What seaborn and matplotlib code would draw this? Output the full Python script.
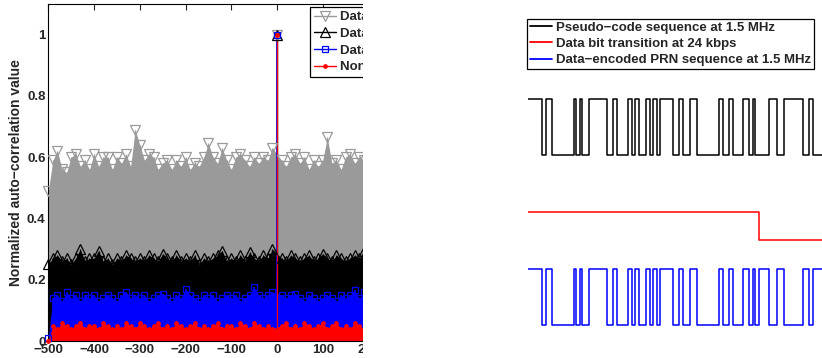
import numpy as np
import pandas as pd
import matplotlib
matplotlib.use("Agg")
import matplotlib.pyplot as plt
import seaborn as sns
from matplotlib.legend_handler import HandlerLine2D
from matplotlib.lines import Line2D
from matplotlib.patches import Rectangle

# ---------------- data: left panel (auto-correlation vs lag) ----------------
lags = list(range(-500, 501, 10))

acf_gray = [0.49, 0.59, 0.62, 0.56, 0.55, 0.60, 0.61, 0.57, 0.59, 0.56,
            0.61, 0.57, 0.60, 0.60, 0.56, 0.60, 0.58, 0.61, 0.57, 0.69,
            0.64, 0.59, 0.61, 0.60, 0.56, 0.58, 0.59, 0.56, 0.59, 0.57,
            0.60, 0.56, 0.58, 0.57, 0.60, 0.645, 0.60, 0.58, 0.63, 0.59,
            0.56, 0.60, 0.61, 0.59, 0.57, 0.60, 0.58, 0.60, 0.59, 0.63,
            1.00,
            0.59, 0.57, 0.60, 0.61, 0.58, 0.60, 0.56, 0.59, 0.57, 0.59,
            0.665, 0.58, 0.59, 0.56, 0.60, 0.61, 0.58, 0.60, 0.59, 0.57,
            0.60, 0.58, 0.61, 0.57, 0.59, 0.60, 0.56, 0.58, 0.60, 0.59,
            0.57, 0.61, 0.59, 0.58, 0.60, 0.56, 0.59, 0.61, 0.58, 0.60,
            0.59, 0.57, 0.60, 0.58, 0.61, 0.59, 0.56, 0.60, 0.58, 0.55]

acf_black = [0.25, 0.27, 0.28, 0.26, 0.27, 0.25, 0.27, 0.30, 0.26, 0.27,
             0.27, 0.295, 0.26, 0.27, 0.25, 0.27, 0.26, 0.28, 0.27, 0.26,
             0.27, 0.26, 0.28, 0.27, 0.26, 0.285, 0.27, 0.26, 0.28, 0.26,
             0.27, 0.26, 0.28, 0.25, 0.27, 0.26, 0.27, 0.28, 0.295, 0.26,
             0.27, 0.26, 0.28, 0.26, 0.29, 0.27, 0.26, 0.28, 0.27, 0.30,
             1.00,
             0.27, 0.26, 0.28, 0.27, 0.26, 0.27, 0.28, 0.26, 0.27, 0.285,
             0.27, 0.26, 0.28, 0.27, 0.26, 0.27, 0.28, 0.27, 0.295, 0.27,
             0.26, 0.28, 0.27, 0.26, 0.27, 0.28, 0.26, 0.27, 0.27, 0.26,
             0.28, 0.27, 0.26, 0.27, 0.28, 0.26, 0.27, 0.26, 0.28, 0.27,
             0.26, 0.27, 0.28, 0.26, 0.27, 0.26, 0.28, 0.27, 0.26, 0.25]

acf_blue = [0.01, 0.14, 0.15, 0.13, 0.16, 0.14, 0.15, 0.13, 0.15, 0.14,
            0.15, 0.13, 0.14, 0.15, 0.14, 0.13, 0.15, 0.16, 0.14, 0.15,
            0.14, 0.15, 0.13, 0.14, 0.15, 0.155, 0.14, 0.13, 0.15, 0.14,
            0.17, 0.15, 0.14, 0.13, 0.15, 0.14, 0.15, 0.13, 0.14, 0.15,
            0.14, 0.15, 0.13, 0.14, 0.15, 0.175, 0.15, 0.14, 0.15, 0.16,
            1.00,
            0.15, 0.14, 0.15, 0.155, 0.14, 0.13, 0.15, 0.14, 0.13, 0.14,
            0.15, 0.14, 0.13, 0.15, 0.14, 0.15, 0.165, 0.14, 0.16, 0.15,
            0.14, 0.15, 0.13, 0.14, 0.15, 0.14, 0.13, 0.15, 0.14, 0.15,
            0.14, 0.13, 0.15, 0.14, 0.15, 0.13, 0.14, 0.15, 0.14, 0.13,
            0.15, 0.14, 0.13, 0.15, 0.14, 0.15, 0.13, 0.14, 0.15, 0.12]

acf_red = [0.00, 0.05, 0.04, 0.06, 0.05, 0.04, 0.05, 0.06, 0.04, 0.05,
           0.05, 0.04, 0.06, 0.05, 0.04, 0.05, 0.04, 0.06, 0.05, 0.04,
           0.06, 0.05, 0.04, 0.05, 0.06, 0.04, 0.05, 0.04, 0.06, 0.05,
           0.04, 0.05, 0.06, 0.04, 0.05, 0.04, 0.05, 0.06, 0.04, 0.05,
           0.05, 0.04, 0.06, 0.05, 0.04, 0.06, 0.05, 0.04, 0.05, 0.04,
           1.00,
           0.05, 0.06, 0.04, 0.05, 0.04, 0.06, 0.05, 0.04, 0.05, 0.06,
           0.04, 0.05, 0.06, 0.04, 0.05, 0.04, 0.06, 0.05, 0.04, 0.05,
           0.06, 0.04, 0.05, 0.04, 0.05, 0.06, 0.04, 0.05, 0.06, 0.04,
           0.05, 0.04, 0.06, 0.05, 0.04, 0.05, 0.06, 0.04, 0.05, 0.04,
           0.06, 0.05, 0.04, 0.05, 0.06, 0.04, 0.05, 0.04, 0.05, 0.03]

acf_labels = ["Data rate 6 kbps", "Data rate 12 kbps",
              "Data rate 24 kbps", "Non\u2212encoded PRN"]

x_ticks = list(range(-500, 501, 100))
y_ticks = [0, 0.2, 0.4, 0.6, 0.8, 1.0]
y_ticklabels = ["0", "0.2", "0.4", "0.6", "0.8", "1"]

# ---------------- data: right panel (waveforms, time in microseconds) ----------------
prn_edges = [2.33, 3.00, 4.00, 7.67, 8.05, 8.72, 9.10, 10.17, 13.27, 14.27,
             14.94, 16.72, 17.44, 17.94, 18.55, 19.72, 20.39, 20.94, 21.55, 22.05,
             24.27, 25.27, 25.94, 27.06, 28.17, 31.94, 32.61, 33.61, 34.27, 35.84,
             36.84, 37.51, 37.84, 40.27, 41.51, 42.73, 45.84, 46.94, 47.61]
data_edge = 38.51
t_end = 49.06
wave_labels = ["Pseudo\u2212code sequence at 1.5 MHz",
               "Data bit transition at 24 kbps",
               "Data\u2212encoded PRN sequence at 1.5 MHz"]

# ---------------- style ----------------
sns.set_theme(style="white")
plt.rcParams["font.family"] = ["Liberation Sans", "DejaVu Sans"]
plt.rcParams["font.weight"] = "bold"
plt.rcParams["axes.labelweight"] = "bold"
plt.rcParams["axes.unicode_minus"] = True

W, H = 822, 358
fig = plt.figure(figsize=(W / 100, H / 100), dpi=100)

GRAY = "#9a9a9a"
series = [
    (acf_gray, GRAY, "v", "none", 6.5, 0.9),
    (acf_black, "black", "^", "none", 6.5, 0.9),
    (acf_blue, "#0000ff", "s", "none", 5, 1.2),
    (acf_red, "#ff0000", ".", "#ff0000", 5, 0.9),
]

# left axes: -500 at x=48.3px, 0 at 277px
ax = fig.add_axes([48.3 / W, 17 / H, (505.7 - 48.3) / W, 337 / H])
lag_arr = np.array(lags)
handles = []
for vals, col, mk, mfc, ms, lw in series:
    v = np.array(vals, float)
    fill_v = v.copy()
    i0 = int(np.where(lag_arr == 0)[0][0])
    fill_v[i0] = 0.5 * (v[i0 - 1] + v[i0 + 1])
    ax.fill_between(lag_arr, 0, fill_v, color=col, lw=0, zorder=2)
    ax.vlines(lag_arr, 0, v, color=col, lw=lw, zorder=2)
    ax.plot(lag_arr, v, ls="none", marker=mk, ms=ms, mfc=mfc, mec=col,
            mew=0.9, zorder=3, clip_on=False)
    handles.append(Line2D([], [], color=col, marker=mk, ms=ms, mfc=mfc,
                          mec=col, mew=0.9, lw=1.0))

ax.set_xlim(-500, 500)
ax.set_ylim(0, 1.1)
ax.set_xticks(x_ticks)
ax.set_xticklabels([f"{t}".replace("-", "\u2212") for t in x_ticks])
ax.set_yticks(y_ticks)
ax.set_yticklabels(y_ticklabels)
ax.tick_params(direction="in", length=4, width=0.8, top=True, right=True,
               labelsize=9.5, pad=2)
for lab in ax.get_xticklabels() + ax.get_yticklabels():
    lab.set_fontweight("bold")
for s in ax.spines.values():
    s.set_color("black")
    s.set_linewidth(0.8)
ax.set_ylabel("Normalized auto\u2212correlation value", fontsize=10,
              fontweight="bold", labelpad=3)
ax.grid(False)


class EndMarker(HandlerLine2D):
    def get_xdata(self, legend, xdescent, ydescent, width, height, fontsize):
        xdata = np.array([-xdescent, -xdescent + width], float)
        return xdata, np.array([-xdescent + width * 0.9])


leg = ax.legend(handles, acf_labels, loc="upper left",
                bbox_to_anchor=(310 / W, 1 - 7.3 / H),
                bbox_transform=fig.transFigure, borderaxespad=0,
                prop={"size": 9.5, "weight": "bold"}, frameon=True,
                fancybox=False, framealpha=1, edgecolor="black",
                handlelength=1.7, handletextpad=0.3, labelspacing=0.33,
                borderpad=0.3,
                handler_map={h: EndMarker() for h in handles})
leg.get_frame().set_linewidth(0.9)
leg.set_zorder(10)

# white mask: the left panel is cut off at x=362.5 px
fig.add_artist(Rectangle((362.5 / W, 0), (526 - 362.5) / W, 1,
                         transform=fig.transFigure, facecolor="white",
                         edgecolor="none", zorder=50))

# ---------------- right panel ----------------
bx = fig.add_axes([527.7 / W, 0, (W - 527.7) / W, 1])
bx.set_zorder(60)
bx.patch.set_alpha(0)

breaks = sorted(set([0.0] + prn_edges + [data_edge]))
prn_lvl, dat_lvl = [], []
for t in breaks:
    n = sum(1 for e in prn_edges if e <= t)
    prn_lvl.append(1 if n % 2 == 0 else -1)
    dat_lvl.append(1 if t < data_edge else -1)
breaks.append(t_end)
prn_lvl.append(prn_lvl[-1])
dat_lvl.append(dat_lvl[-1])
prn_lvl = np.array(prn_lvl)
dat_lvl = np.array(dat_lvl)
enc_lvl = prn_lvl * dat_lvl

df = pd.DataFrame({
    "t": breaks * 3,
    "y": np.concatenate([3.04 + (prn_lvl + 1) / 2,
                         1.52 + (dat_lvl + 1) / 4,
                         (enc_lvl + 1) / 2]),
    "wave": [wave_labels[0]] * len(breaks) + [wave_labels[1]] * len(breaks)
            + [wave_labels[2]] * len(breaks),
})
pal = {wave_labels[0]: "black", wave_labels[1]: "#ff0000",
       wave_labels[2]: "#0000ff"}
sns.lineplot(data=df, x="t", y="y", hue="wave", palette=pal,
             estimator=None, sort=False, drawstyle="steps-post",
             lw=1.1, ax=bx, legend=False)
bx.set_xlim(0, t_end)
bx.set_ylim(-0.59, 5.80)
bx.axis("off")

whandles = [Line2D([], [], color=pal[l], lw=1.3) for l in wave_labels]
leg2 = bx.legend(whandles, wave_labels, loc="upper left",
                 bbox_to_anchor=(527 / W, 1 - 19 / H),
                 bbox_transform=fig.transFigure, borderaxespad=0,
                 prop={"size": 9.5, "weight": "bold"}, frameon=True,
                 fancybox=False, framealpha=1, edgecolor="black",
                 handlelength=1.7, handletextpad=0.3, labelspacing=0.3,
                 borderpad=0.2)
leg2.get_frame().set_linewidth(0.9)

fig.savefig("out.png", dpi=100)
